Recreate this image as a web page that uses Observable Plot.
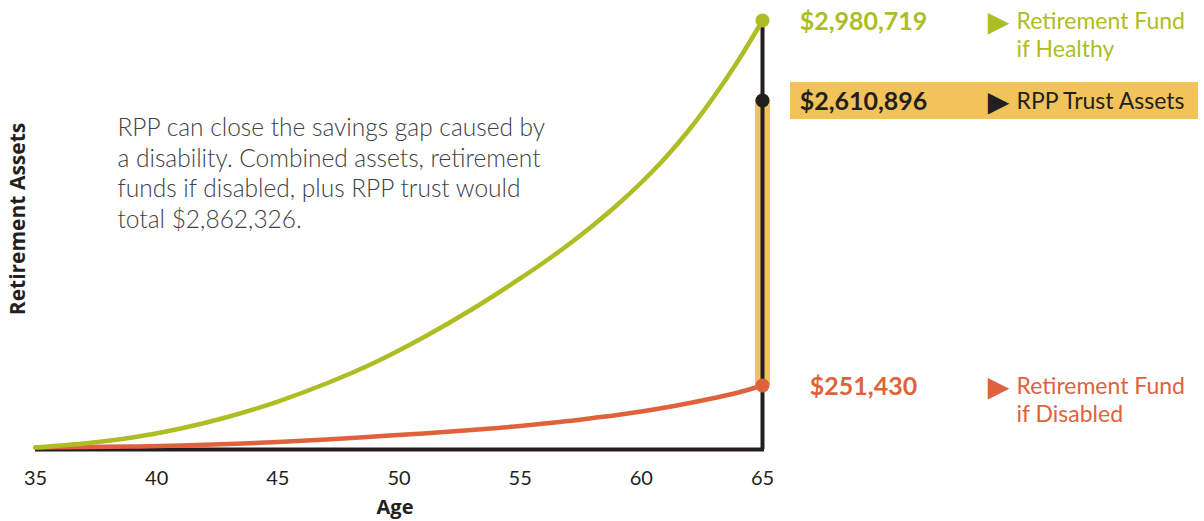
<!DOCTYPE html>
<html><head><meta charset="utf-8">
<script src="https://cdn.jsdelivr.net/npm/d3@7"></script>
<script src="https://cdn.jsdelivr.net/npm/@observablehq/plot@0.6"></script>
<style>
html,body{margin:0;padding:0;background:#fff;}
#chart svg{display:block;}
</style></head><body><div id="chart"></div>
<script>
// Age (x) values at which the curves were read
const ages = [35,37,39,41,43,45,47,49,51,53,55,56,57,58,59,60,61,62,63,64,65];
// Retirement fund if healthy ($)
const healthy = [0,16200,40600,77100,125700,186500,268000,441800,648800,880600,1137300,1273900,1418700,1576000,1745800,1932000,2139000,2374900,2629400,2795800,2980719];
// Retirement fund if disabled ($)
const disabled = [0,1600,4100,8100,14200,22300,32400,44600,56800,71000,87200,97300,107500,119600,131800,146000,162200,180500,200700,223000,251430];
// Values at age 65 and their labels
const endValues = [2980719, 2610896, 251430];
const endAmounts = ["$2,980,719", "$2,610,896", "$251,430"];
const endLine1 = ["Retirement Fund", "RPP Trust Assets", "Retirement Fund"];
const endLine2 = ["if Healthy", "", "if Disabled"];
const xTicks = [35,40,45,50,55,60,65];
const noteLines = [
  "RPP can close the savings gap caused by",
  "a disability. Combined assets, retirement",
  "funds if disabled, plus RPP trust would",
  "total $2,862,326."
];
const xLabel = "Age";
const yLabel = "Retirement Assets";

const GREEN = "#aebd24", RED = "#e0623a", YELLOW = "#f2c35a", INK = "#231f20", GRAY = "#414042";
const endColors = [GREEN, INK, RED];
const endAge = d3.max(ages);

const healthyData = ages.map((a, i) => ({age: a, value: healthy[i]}));
const disabledData = ages.map((a, i) => ({age: a, value: disabled[i]}));
const ends = endValues.map((v, i) => ({value: v, amount: endAmounts[i], line1: endLine1[i], line2: endLine2[i], color: endColors[i]}));

const chart = Plot.plot({
  width: 1204, height: 521,
  marginLeft: 35, marginRight: 442, marginTop: 20, marginBottom: 74,
  style: {fontFamily: "Lato, 'Open Sans', sans-serif", color: INK, background: "#fff", overflow: "visible"},
  x: {domain: [d3.min(ages), endAge]},
  y: {type: "linear", domain: [0, endValues[2], endValues[1], endValues[0]], range: [447, 385, 100, 20], axis: null},
  color: {type: "identity"},
  marks: [
    // highlight band behind RPP label
    Plot.ruleY([ends[1]], {y: "value", x1: endAge, x2: endAge, insetLeft: 28, insetRight: -436, stroke: YELLOW, strokeWidth: 37}),
    // yellow vertical gap band
    Plot.ruleX([endAge], {y1: endValues[2], y2: endValues[1], stroke: YELLOW, strokeWidth: 15}),
    // axis baseline
    Plot.ruleY([0], {x1: d3.min(ages), x2: endAge, dy: 2, insetRight: -2, stroke: INK, strokeWidth: 4}),
    // vertical line at 65
    Plot.ruleX([endAge], {y1: 0, y2: endValues[0], stroke: INK, strokeWidth: 4, strokeLinecap: "square"}),
    Plot.line(disabledData, {x: "age", y: "value", stroke: RED, strokeWidth: 4.5, curve: "monotone-x"}),
    Plot.line(healthyData, {x: "age", y: "value", stroke: GREEN, strokeWidth: 4.5, curve: "monotone-x"}),
    Plot.dot(ends, {x: endAge, y: "value", r: 7, fill: "color"}),
    Plot.axisX(xTicks, {tickSize: 0, tickPadding: 23, fontSize: 20, label: null, fill: INK}),
    // labels on the right
    Plot.text(ends, {x: endAge, y: "value", text: "amount", dx: 101, dy: 1, fill: "color", fontSize: 25, fontWeight: "bold", textAnchor: "middle"}),
    Plot.text(ends, {x: endAge, y: "value", text: () => "\u25B6", dx: 236, dy: 2, fill: "color", fontSize: 28, fontFamily: "DejaVu Sans", textAnchor: "middle"}),
    Plot.text(ends, {x: endAge, y: "value", text: "line1", dx: 254, dy: 1, fill: "color", fontSize: 23, textAnchor: "start"}),
    Plot.text(ends.filter(d => d.line2), {x: endAge, y: "value", text: "line2", dx: 254, dy: 29, fill: "color", fontSize: 23, textAnchor: "start"}),
    // annotation
    Plot.text([noteLines.join("\n")], {text: d => d, frameAnchor: "top-left", dx: 82, dy: 94, lineAnchor: "top", textAnchor: "start", fontSize: 24.5, fontWeight: 300, lineHeight: 1.25, fill: GRAY}),
    // axis titles
    Plot.text([xLabel], {text: d => d, frameAnchor: "bottom", dx: -4, dy: 66, fontSize: 20, fontWeight: "bold", fontFamily: "'Open Sans', sans-serif", fill: INK}),
    Plot.text([yLabel], {text: d => d, frameAnchor: "left", textAnchor: "middle", rotate: -90, dx: -17, dy: -15, fontSize: 21, fontWeight: "bold", fontFamily: "'Open Sans', sans-serif", fill: INK})
  ]
});
document.getElementById("chart").append(chart);
</script>
</body></html>
